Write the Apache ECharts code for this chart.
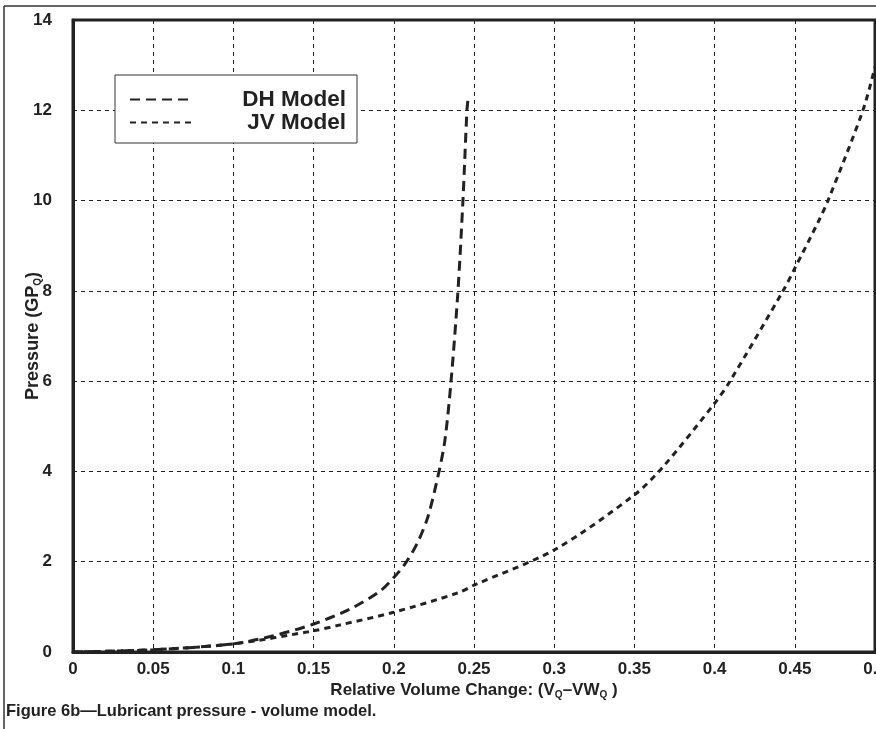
<!DOCTYPE html>
<html>
<head>
<meta charset="utf-8">
<script src="https://cdn.jsdelivr.net/npm/echarts@6/dist/echarts.min.js"></script>
<style>
html,body{margin:0;padding:0;background:#fff;}
#chart{width:876px;height:729px;}
</style>
</head>
<body>
<div id="chart"></div>
<script>
// ---- data ----
var seriesNames = ['DH Model', 'JV Model'];
var dhX = [0, 0.05, 0.1, 0.125, 0.15, 0.1727, 0.1914, 0.2, 0.207, 0.2145, 0.2213, 0.2282, 0.2319, 0.2357, 0.240, 0.2431, 0.2456, 0.2463];
var dhY = [0, 0.05, 0.18, 0.36, 0.62, 0.95, 1.35, 1.65, 1.95, 2.4, 3.0, 4.0, 4.7, 6.0, 8.0, 10.0, 12.0, 12.25];
var jvX = [0, 0.05, 0.1, 0.15, 0.1665, 0.2, 0.24, 0.25, 0.3, 0.35, 0.3678, 0.4, 0.4096, 0.4427, 0.45, 0.4645, 0.4707, 0.4925, 0.5];
var jvY = [0, 0.05, 0.18, 0.47, 0.6, 0.88, 1.31, 1.48, 2.26, 3.48, 4.1, 5.51, 6.0, 8.0, 8.5, 9.52, 10.0, 12.0, 12.96];
var xTicks = [0, 0.05, 0.1, 0.15, 0.2, 0.25, 0.3, 0.35, 0.4, 0.45, 0.5];
var yTicks = [0, 2, 4, 6, 8, 10, 12, 14];
var xTitle = 'Relative Volume Change: (V{sub|Q}–VW{sub|Q} )';
var yTitle = 'Pressure (GP{sub|Q})';
var caption = 'Figure 6b—Lubricant pressure - volume model.';

function pairs(xs, ys){ return xs.map(function(x,i){ return [x, ys[i]]; }); }

var FONT = '"Liberation Sans", Arial, sans-serif';
var chart = echarts.init(document.getElementById('chart'), null, {renderer:'canvas'});
var gridLine = {show:true, lineStyle:{color:'#222', width:1, type:[4,4]}};
var tickFont = {fontFamily:FONT, fontWeight:'bold', fontSize:17, color:'#222'};
var subStyle = {fontFamily:FONT, fontWeight:'bold', fontSize:10, color:'#222', verticalAlign:'bottom', padding:[9,0,0,0]};

chart.setOption({
  animation:false,
  backgroundColor:'#fff',
  grid:{left:73, right:1, top:20, bottom:77, show:true, borderColor:'#222', borderWidth:3,
        backgroundColor:'transparent', containLabel:false, outerBoundsMode:'none'},
  legend:{
    data:seriesNames,
    orient:'vertical',
    left:115, top:75,
    padding:[13, 11, 9, 14],
    itemWidth:61, itemHeight:14, itemGap:0,
    backgroundColor:'#fff',
    borderColor:'#333', borderWidth:1,
    itemStyle:{opacity:0},
    formatter:function(n){ return '{t|' + n + '}'; },
    textStyle:{fontFamily:FONT, fontWeight:'bold', fontSize:22.5, color:'#222',
      rich:{t:{fontFamily:FONT, fontWeight:'bold', fontSize:22.5, color:'#222', width:150, align:'right', lineHeight:22}}}
  },
  xAxis:{
    type:'value', min:0, max:0.5, interval:0.05,
    axisLine:{show:true, lineStyle:{color:'#222', width:3}},
    axisTick:{show:false},
    splitLine:gridLine,
    axisLabel:Object.assign({margin:9, formatter:function(v){ var s = xTicks.indexOf(+v.toFixed(2)); return s>=0 ? String(xTicks[s]) : ''; }}, tickFont),
    name:xTitle, nameLocation:'middle', nameGap:29, nameMoveOverlap:false,
    nameTextStyle:{fontFamily:FONT, fontWeight:'bold', fontSize:17, color:'#222', rich:{sub:subStyle}}
  },
  yAxis:{
    type:'value', min:0, max:14, interval:2,
    axisLine:{show:true, lineStyle:{color:'#222', width:3}},
    axisTick:{show:false},
    splitLine:gridLine,
    axisLabel:Object.assign({margin:21, formatter:function(v){ return yTicks.indexOf(v)>=0 ? String(v) : ''; }}, tickFont),
    name:yTitle, nameLocation:'middle', nameGap:30, nameRotate:90, nameMoveOverlap:false,
    nameTextStyle:{fontFamily:FONT, fontWeight:'bold', fontSize:18, color:'#222', rich:{sub:subStyle}}
  },
  series:[
    {name:seriesNames[0], type:'line', data:pairs(dhX, dhY), symbol:'none', smooth:0.3, z:3,
     itemStyle:{color:'#222'}, lineStyle:{color:'#222', width:3, type:[10,6]}},
    {name:seriesNames[1], type:'line', data:pairs(jvX, jvY), symbol:'none', smooth:0.3, z:3,
     itemStyle:{color:'#222'}, lineStyle:{color:'#222', width:3, type:[6,5]}}
  ],
  graphic:[
    {type:'line', shape:{x1:4, y1:6, x2:876, y2:6}, style:{stroke:'#333', lineWidth:1.5}},
    {type:'line', shape:{x1:4, y1:6, x2:4, y2:729}, style:{stroke:'#333', lineWidth:1.5}},
    {type:'text', left:6, top:703, style:{text:caption, fontFamily:FONT, fontWeight:'bold', fontSize:16.5, fill:'#222'}}
  ]
});
</script>
</body>
</html>
